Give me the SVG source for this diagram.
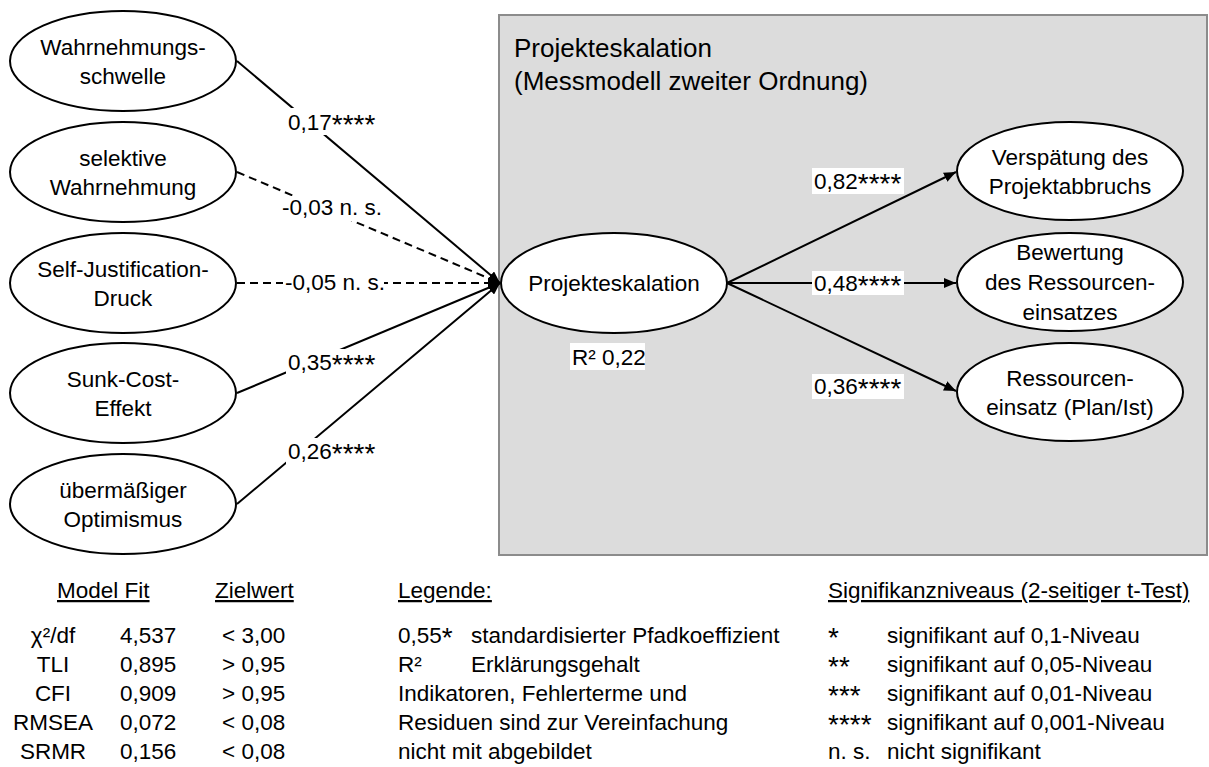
<svg xmlns="http://www.w3.org/2000/svg" width="1209" height="767" viewBox="0 0 1209 767">
<style>
text{font-family:"Liberation Sans",Arial,sans-serif;font-size:22.5px;fill:#000}
.node ellipse{fill:#fff;stroke:#000;stroke-width:2}
.node text{text-anchor:middle}
.c{stroke:#000;stroke-width:2;fill:none}
.d{stroke-dasharray:8 5}
.lbl{fill:#fff}
.u{text-decoration:underline}
.title{font-size:26px}
.st{font-size:28px}
</style>
<defs>
<marker id="ah" viewBox="0 0 12 10" refX="12" refY="5" markerWidth="12" markerHeight="10" markerUnits="userSpaceOnUse" orient="auto">
<path d="M0,0 L12,5 L0,10 z" fill="#000"/>
</marker>
</defs>
<rect x="0" y="0" width="1209" height="767" fill="#fff"/>
<g id="box">
<rect x="499" y="15" width="708" height="540" fill="#dcdcdc" stroke="#8c8c8c" stroke-width="2"/>
<text class="title" x="514" y="57">Projekteskalation</text>
<text class="title" x="514" y="90">(Messmodell zweiter Ordnung)</text>
</g>
<g id="connectors">
<line class="c" x1="237" y1="61" x2="500" y2="283" marker-end="url(#ah)"/>
<line class="c d" x1="237" y1="172" x2="500" y2="283" marker-end="url(#ah)"/>
<line class="c d" x1="237" y1="283" x2="500" y2="283" marker-end="url(#ah)"/>
<line class="c" x1="237" y1="393" x2="500" y2="283" marker-end="url(#ah)"/>
<line class="c" x1="237" y1="504" x2="500" y2="283" marker-end="url(#ah)"/>
<line class="c" x1="727" y1="283" x2="956" y2="172" marker-end="url(#ah)"/>
<line class="c" x1="727" y1="283" x2="956" y2="283" marker-end="url(#ah)"/>
<line class="c" x1="727" y1="283" x2="956" y2="391" marker-end="url(#ah)"/>
<rect class="lbl" x="286" y="108" width="96" height="27"/>
<text x="288" y="130">0,17<tspan class="st" dy="4">****</tspan></text>
<rect class="lbl" x="280" y="196" width="105" height="25"/>
<text x="282" y="215">-0,03 n. s.</text>
<rect class="lbl" x="283" y="270" width="101" height="25"/>
<text x="285" y="290">-0,05 n. s.</text>
<rect class="lbl" x="286" y="349" width="96" height="26"/>
<text x="288" y="370">0,35<tspan class="st" dy="4">****</tspan></text>
<rect class="lbl" x="286" y="438" width="96" height="26"/>
<text x="288" y="459">0,26<tspan class="st" dy="4">****</tspan></text>
<rect class="lbl" x="812" y="168" width="92" height="26"/>
<text x="814" y="189">0,82<tspan class="st" dy="4">****</tspan></text>
<rect class="lbl" x="812" y="271" width="92" height="24"/>
<text x="814" y="291">0,48<tspan class="st" dy="4">****</tspan></text>
<rect class="lbl" x="812" y="374" width="92" height="25"/>
<text x="814" y="394">0,36<tspan class="st" dy="4">****</tspan></text>
</g>
<g id="n1" class="node"><ellipse cx="123" cy="61" rx="113" ry="50"/><text x="123" y="55">Wahrnehmungs-</text><text x="123" y="84">schwelle</text></g>
<g id="n2" class="node"><ellipse cx="123" cy="172" rx="113" ry="50"/><text x="123" y="166">selektive</text><text x="123" y="195">Wahrnehmung</text></g>
<g id="n3" class="node"><ellipse cx="123" cy="283" rx="113" ry="50"/><text x="123" y="277">Self-Justification-</text><text x="123" y="306">Druck</text></g>
<g id="n4" class="node"><ellipse cx="123" cy="393" rx="113" ry="50"/><text x="123" y="387">Sunk-Cost-</text><text x="123" y="416">Effekt</text></g>
<g id="n5" class="node"><ellipse cx="123" cy="504" rx="113" ry="50"/><text x="123" y="498">übermäßiger</text><text x="123" y="527">Optimismus</text></g>
<g id="center" class="node"><ellipse cx="614" cy="283" rx="113" ry="50"/><text x="614" y="291">Projekteskalation</text></g>
<g id="r2">
<rect x="570" y="343" width="75" height="27" fill="#fff"/>
<text x="572" y="365">R² 0,22</text>
</g>
<g id="m1" class="node"><ellipse cx="1070" cy="171" rx="113" ry="49"/><text x="1070" y="165">Verspätung des</text><text x="1070" y="194">Projektabbruchs</text></g>
<g id="m2" class="node"><ellipse cx="1070" cy="282" rx="113" ry="49"/><text x="1070" y="260">Bewertung</text><text x="1070" y="290">des Ressourcen-</text><text x="1070" y="320">einsatzes</text></g>
<g id="m3" class="node"><ellipse cx="1070" cy="392" rx="113" ry="49"/><text x="1070" y="386">Ressourcen-</text><text x="1070" y="415">einsatz (Plan/Ist)</text></g>
<g id="fit">
<text class="u" x="57" y="598">Model Fit</text>
<text class="u" x="215" y="598">Zielwert</text>
<g text-anchor="middle">
<text x="53" y="643">χ²/df</text>
<text x="53" y="672">TLI</text>
<text x="53" y="701">CFI</text>
<text x="53" y="730">RMSEA</text>
<text x="53" y="759">SRMR</text>
</g>
<text x="120" y="643">4,537</text>
<text x="120" y="672">0,895</text>
<text x="120" y="701">0,909</text>
<text x="120" y="730">0,072</text>
<text x="120" y="759">0,156</text>
<text x="222" y="643">&lt; 3,00</text>
<text x="222" y="672">&gt; 0,95</text>
<text x="222" y="701">&gt; 0,95</text>
<text x="222" y="730">&lt; 0,08</text>
<text x="222" y="759">&lt; 0,08</text>
</g>
<g id="legend">
<text class="u" x="398" y="598">Legende:</text>
<text x="398" y="643">0,55<tspan class="st" dy="4">*</tspan></text>
<text x="471" y="643">standardisierter Pfadkoeffizient</text>
<text x="398" y="672">R²</text>
<text x="471" y="672">Erklärungsgehalt</text>
<text x="398" y="701">Indikatoren, Fehlerterme und</text>
<text x="398" y="730">Residuen sind zur Vereinfachung</text>
<text x="398" y="759">nicht mit abgebildet</text>
</g>
<g id="signif">
<text class="u" x="828" y="598">Signifikanzniveaus (2-seitiger t-Test)</text>
<text class="st" x="828" y="647">*</text>
<text class="st" x="828" y="676">**</text>
<text class="st" x="828" y="705">***</text>
<text class="st" x="828" y="734">****</text>
<text x="828" y="759">n. s.</text>
<text x="887" y="643">signifikant auf 0,1-Niveau</text>
<text x="887" y="672">signifikant auf 0,05-Niveau</text>
<text x="887" y="701">signifikant auf 0,01-Niveau</text>
<text x="887" y="730">signifikant auf 0,001-Niveau</text>
<text x="887" y="759">nicht signifikant</text>
</g>
</svg>
